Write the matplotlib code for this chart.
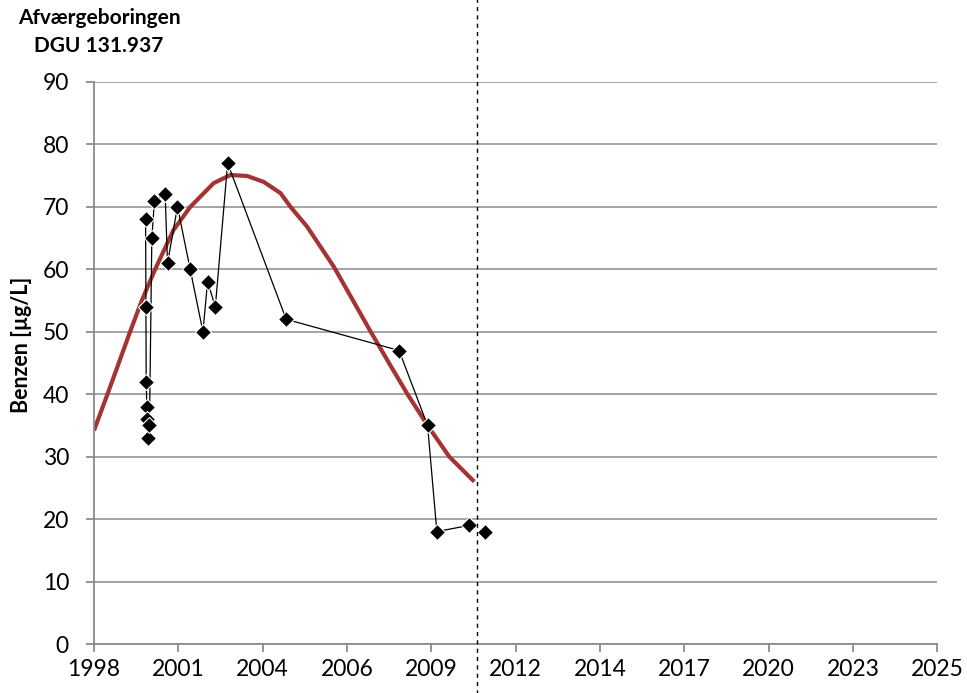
import matplotlib
matplotlib.use("Agg")
import matplotlib.pyplot as plt
import matplotlib.dates as mdates
import pandas as pd

# Benzene measurements, abatement well DGU 131.937
sample_dates = ["2000-03-27", "2000-03-31", "2000-04-03", "2000-04-11", "2000-04-18",
                "2000-04-30", "2000-05-12", "2000-06-09", "2000-07-10", "2000-11-14",
                "2000-12-12", "2001-04-09", "2001-09-07", "2002-02-05", "2002-04-01",
                "2002-07-02", "2002-11-25", "2004-10-19", "2008-06-19", "2009-05-23",
                "2009-09-10", "2010-09-29", "2011-04-04"]
benzen = [68, 54, 42, 38, 36, 33, 35, 65, 71, 72,
          61, 70, 60, 50, 58,
          54, 77, 52, 47, 35,
          18, 19, 18]

trend_dates = ["1998-07-24", "1998-12-31", "1999-09-25", "2000-02-11", "2000-07-18",
               "2001-02-21", "2001-09-08", "2002-06-12", "2002-12-27", "2003-07-14",
               "2004-01-27", "2004-08-13", "2004-12-10", "2005-06-26", "2005-12-01",
               "2006-05-08", "2007-07-19", "2008-03-13", "2008-09-27", "2009-05-23",
               "2010-02-04", "2010-11-28"]
trend_vals = [34.2, 40.0, 50.0, 55.0, 60.0,
              66.3, 70.0, 73.8, 75.1, 74.95,
              74.0, 72.2, 70.0, 66.8, 63.6,
              60.4, 50.0, 44.5, 40.0, 35.0,
              30.0, 26.0]

cutoff_date = "2011-01-01"
axis_start = "1998-07-24"

plt.rcParams["font.family"] = ["Lato", "DejaVu Sans"]

x = pd.to_datetime(sample_dates)
xt = pd.to_datetime(trend_dates)

fig = plt.figure(figsize=(9.67, 6.93), dpi=100)
ax = fig.add_axes([0.0972, 0.0707, 0.872, 0.811])

grey = "#8c8c8c"
ax.grid(axis="y", color=grey, linewidth=1.1)
ax.set_axisbelow(True)

ax.plot(xt, trend_vals, color="#a33433", linewidth=3.0, solid_joinstyle="round",
        solid_capstyle="butt", zorder=2)
ax.plot(x[:-1], benzen[:-1], color="black", linewidth=0.9, zorder=3)
ax.plot(x, benzen, linestyle="none", marker="D", markersize=8.5,
        markerfacecolor="black", markeredgecolor="white", markeredgewidth=0.8, zorder=4)

ax.axvline(pd.Timestamp(cutoff_date), ymin=-0.09, ymax=1.15, clip_on=False,
           color="black", linewidth=1.0, linestyle=(0, (3, 3)), zorder=5)

start = pd.Timestamp(axis_start)
ticks = [start + pd.Timedelta(days=1000 * k) for k in range(11)]
ax.set_xlim(ticks[0], ticks[-1])
ax.set_xticks(ticks)
ax.xaxis.set_major_formatter(mdates.DateFormatter("%Y"))

ax.set_ylim(0, 90)
ax.set_yticks(range(0, 91, 10))

for side in ["top", "right"]:
    ax.spines[side].set_visible(False)
for side in ["left", "bottom"]:
    ax.spines[side].set_color(grey)
    ax.spines[side].set_linewidth(1.3)

ax.tick_params(axis="both", direction="out", length=6, width=1.3, color=grey,
               labelsize=16.5, labelcolor="black")
ax.tick_params(axis="y", pad=12)
ax.tick_params(axis="x", pad=5)

fig.text(22 / 967, 1 - 345 / 693, "Benzen [µg/L]", rotation=90, ha="center",
         va="center", fontsize=15.5, fontweight="bold")
fig.text(99 / 967, 1 - 32 / 693, "Afværgeboringen\nDGU 131.937", ha="center",
         va="center", fontsize=15, fontweight="bold", linespacing=1.45)

fig.savefig("out.png", dpi=100)
